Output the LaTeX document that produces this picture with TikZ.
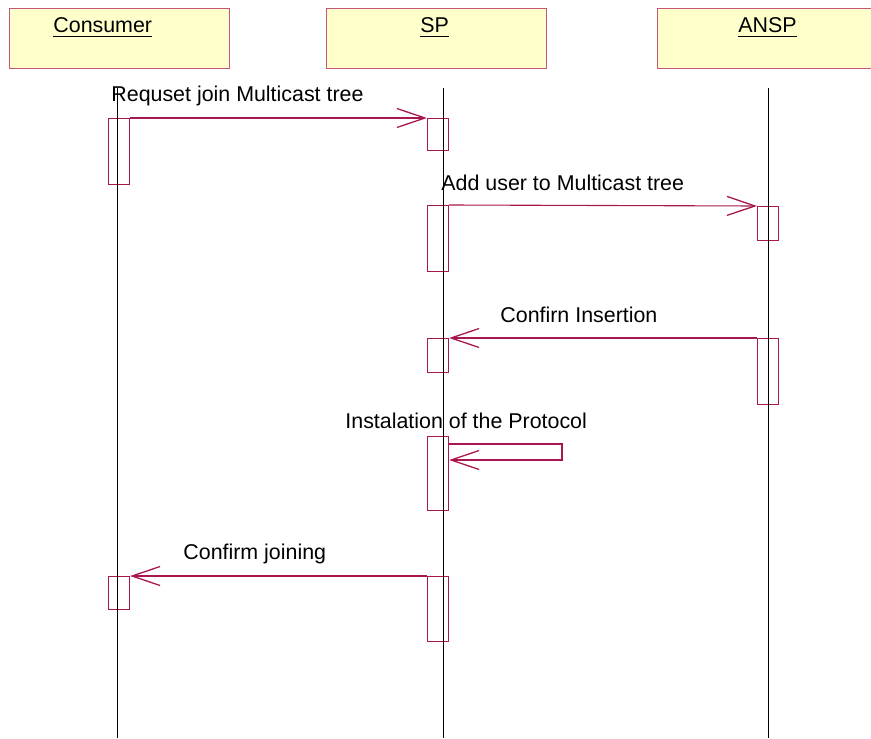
\documentclass[tikz,border=0pt]{standalone}
\usepackage{fontspec}
\setmainfont{Liberation Sans}
\usepackage{tikz}
\usetikzlibrary{positioning,arrows.meta}
\definecolor{umlred}{HTML}{A8174F}
\definecolor{boxline}{HTML}{C8567A}
\definecolor{boxfill}{HTML}{FFFFCC}

\begin{document}
\begin{tikzpicture}[
    x=0.5pt, y=-0.5pt,
    actor/.style={draw=boxline, fill=boxfill, line width=0.6pt, minimum width=110pt, minimum height=30pt, anchor=north west, inner sep=0pt},
    actlabel/.style={font=\fontsize{10.7}{12}\selectfont, anchor=base west, inner sep=0pt},
    act/.style={draw=umlred, fill=white, line width=0.55pt, minimum width=10.5pt, anchor=north, inner sep=0pt},
    msg/.style={-{Straight Barb[length=14pt, width=9.5pt, line width=0.65pt]}, umlred, line width=0.55pt},
    tag/.style={font=\fontsize{10.7}{12}\selectfont, anchor=base west, inner sep=0pt},
    life/.style={black, line width=0.4pt}
]
\useasboundingbox (0,0) rectangle (871,738);

% actors
\node[actor] (consumer) at (9,8) {};
\node[actor] (sp) at (326,8) {};
\node[actor, minimum width=107pt] (ansp) at (657,8) {};
\node[actlabel] (consumerlbl) at (53,33) {\underline{Consumer}};
\node[actlabel] (splbl) at (420,33) {\underline{SP}};
\node[actlabel] (ansplbl) at (738,33) {\underline{ANSP}};

% lifelines
\coordinate (ctop) at (117,88);  \coordinate (cbot) at (117,738);
\coordinate (stop) at (443,88);  \coordinate (sbot) at (443,738);
\coordinate (atop) at (768,88);  \coordinate (abot) at (768,738);

% activations
\node[act, minimum height=33pt] (c1) at (119,118) {};
\node[act, minimum height=16pt] (s1) at (438,118) {};
\node[act, minimum height=33pt] (s2) at (438,205) {};
\node[act, minimum height=17pt] (a1) at (768,206) {};
\node[act, minimum height=17pt] (s3) at (438,338) {};
\node[act, minimum height=33pt] (a2) at (768,338) {};
\node[act, minimum height=37pt] (s4) at (438,436) {};
\node[act, minimum height=16.5pt] (c2) at (119,576) {};
\node[act, minimum height=32.5pt] (s5) at (438,576) {};
\draw[life] (ctop) -- (cbot);
\draw[life] (stop) -- (sbot);
\draw[life] (atop) -- (abot);

% messages
\draw[msg] (c1.north east) -- (s1.north west);
\node[tag] (m1) at (111,102) {Requset join Multicast tree};
\draw[msg] (s2.north east) -- (a1.north west);
\node[tag] (m2) at (441,190) {Add user to Multicast tree};
\draw[msg] (a2.north west) -- (s3.north east);
\node[tag] (m3) at (500,322) {Confirn Insertion};
\coordinate (loopa) at (562,444);
\coordinate (loopb) at (562,460);
\draw[msg] ([yshift=-4pt]s4.north east) -- (loopa) -- (loopb) -- ([yshift=-12pt]s4.north east);
\node[tag] (m4) at (345,428) {Instalation of the Protocol};
\draw[msg] (s5.north west) -- (c2.north east);
\node[tag] (m5) at (183,559) {Confirm joining};

\end{tikzpicture}
\end{document}
